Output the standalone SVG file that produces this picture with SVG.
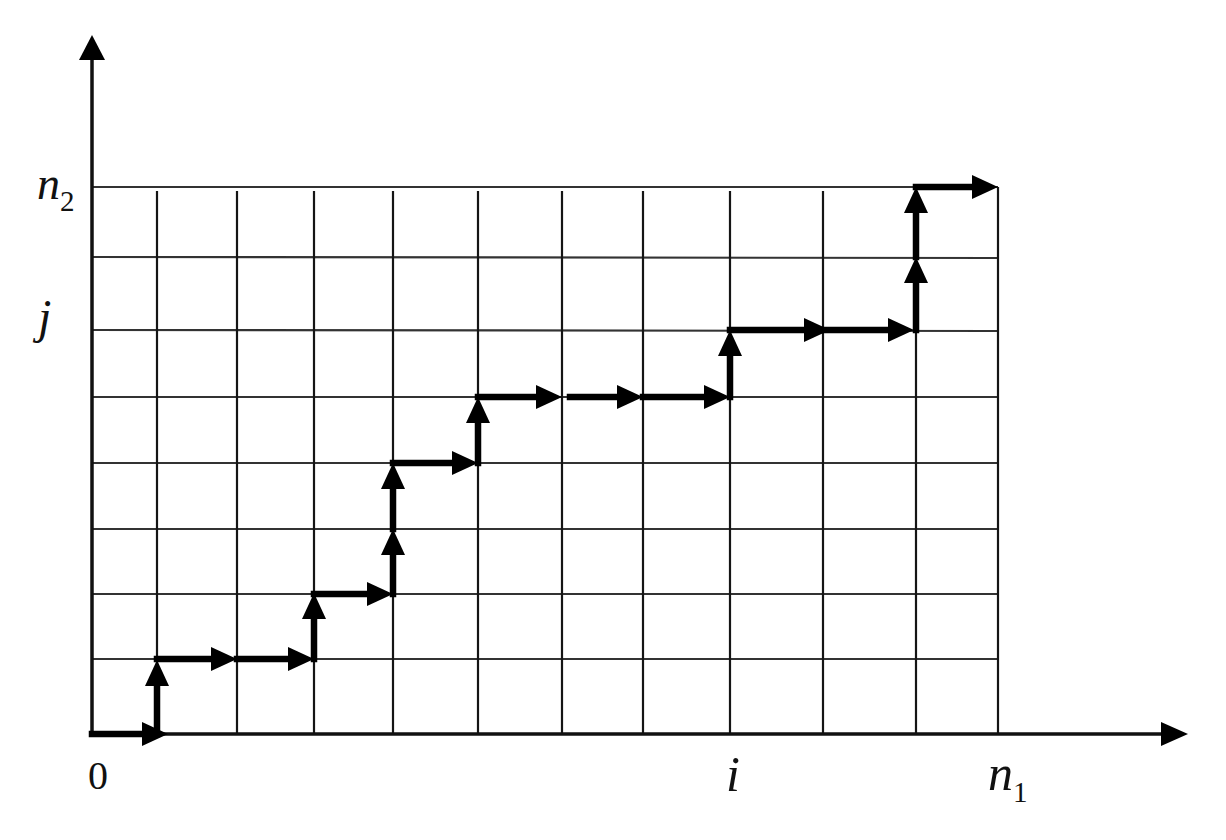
<svg xmlns="http://www.w3.org/2000/svg" width="1226" height="840" viewBox="0 0 1226 840">
<style>
.grid line{stroke:#151515;stroke-width:2.2}
.gh line{stroke:#333;stroke-width:2.2}
.axis{stroke:#111;stroke-width:3.5;fill:none}
.path line{stroke:#000;stroke-width:6.5;stroke-linecap:square;marker-end:url(#ah)}
.lbl{font-family:"Liberation Serif","Times New Roman",serif;fill:#111}
.it{font-style:italic}
</style>
<defs>
<marker id="ah" markerUnits="userSpaceOnUse" markerWidth="26" markerHeight="26" viewBox="0 0 26 26" refX="13" refY="13" orient="auto">
<path d="M0,1 L26,13 L0,25 z" fill="#000"/>
</marker>
</defs>
<rect width="1226" height="840" fill="#fff"/>
<g id="grid">
<g class="gh">
<line x1="92" y1="187" x2="998" y2="187"/>
<line x1="92" y1="257" x2="998" y2="258"/>
<line x1="92" y1="330" x2="998" y2="331"/>
<line x1="92" y1="397" x2="998" y2="397"/>
<line x1="92" y1="463" x2="998" y2="463"/>
<line x1="92" y1="529" x2="998" y2="529"/>
<line x1="92" y1="594" x2="998" y2="594"/>
<line x1="92" y1="659" x2="998" y2="659"/>
</g>
<g class="grid">
<line x1="157" y1="191" x2="157" y2="734"/>
<line x1="237" y1="191" x2="237" y2="734"/>
<line x1="314" y1="191" x2="314" y2="734"/>
<line x1="393" y1="191" x2="393" y2="734"/>
<line x1="478" y1="191" x2="478" y2="734"/>
<line x1="562" y1="191" x2="562" y2="734"/>
<line x1="643" y1="191" x2="643" y2="734"/>
<line x1="730" y1="191" x2="730" y2="734"/>
<line x1="823" y1="191" x2="823" y2="734"/>
<line x1="916" y1="191" x2="916" y2="734"/>
<line x1="998" y1="187" x2="998" y2="734"/>
</g>
</g>
<g id="axes">
<line class="axis" x1="92" y1="736" x2="92" y2="58"/>
<polygon points="92,35 79,60 105,60" fill="#000"/>
<line class="axis" x1="90" y1="734" x2="1162" y2="734"/>
<polygon points="1188,734 1161,722 1161,746" fill="#000"/>
</g>
<g id="connectors" class="path">
<line x1="92" y1="734" x2="155" y2="734"/>
<line x1="157" y1="734" x2="157" y2="673"/>
<line x1="157" y1="659" x2="224" y2="659"/>
<line x1="237" y1="659" x2="301" y2="659"/>
<line x1="314" y1="659" x2="314" y2="606"/>
<line x1="314" y1="594" x2="380" y2="594"/>
<line x1="393" y1="594" x2="393" y2="542"/>
<line x1="393" y1="529" x2="393" y2="476"/>
<line x1="393" y1="463" x2="465" y2="463"/>
<line x1="478" y1="463" x2="478" y2="410"/>
<line x1="478" y1="397" x2="549" y2="397"/>
<line x1="570" y1="397" x2="630" y2="397"/>
<line x1="643" y1="397" x2="717" y2="397"/>
<line x1="730" y1="397" x2="730" y2="343"/>
<line x1="730" y1="330" x2="817" y2="330"/>
<line x1="823" y1="330" x2="901" y2="330"/>
<line x1="916" y1="330" x2="916" y2="270"/>
<line x1="916" y1="257" x2="916" y2="200"/>
<line x1="916" y1="187" x2="985" y2="187"/>
</g>
<g id="labels">
<text class="lbl it" x="37" y="199" font-size="46">n<tspan font-style="normal" font-size="29" dy="12">2</tspan></text>
<text class="lbl it" x="38" y="333" font-size="48">j</text>
<text class="lbl" x="88" y="789" font-size="40">0</text>
<text class="lbl it" x="726" y="791" font-size="50">i</text>
<text class="lbl it" x="988" y="790" font-size="50">n<tspan font-style="normal" font-size="29" dy="12">1</tspan></text>
</g>
</svg>
